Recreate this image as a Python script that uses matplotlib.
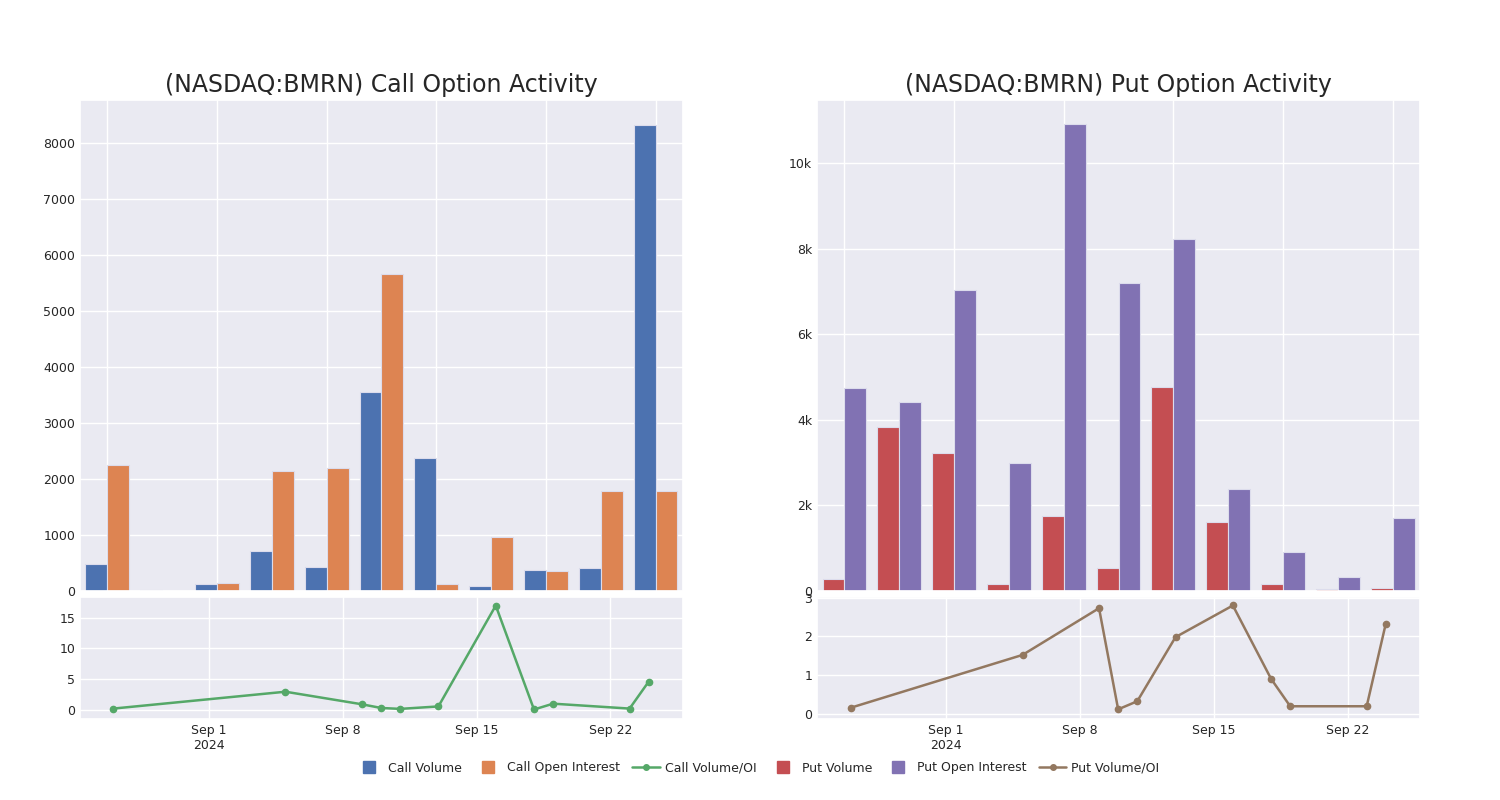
import datetime as dt
import numpy as np
import matplotlib
matplotlib.use("Agg")
import matplotlib.pyplot as plt
import matplotlib.dates as mdates
from matplotlib.ticker import FuncFormatter, MultipleLocator
from matplotlib.lines import Line2D
import seaborn as sns

# --- data ---
dates = ["2024-08-27", "2024-09-05", "2024-09-09", "2024-09-10", "2024-09-11", "2024-09-13",
         "2024-09-16", "2024-09-18", "2024-09-19", "2024-09-23", "2024-09-24"]

call_volume = [490, 24, 132, 719, 431, 3563, 2377, 96, 371, 419, 8330]
call_oi = [2257, 6, 144, 2144, 2204, 5660, 132, 970, 365, 1784, 1790]
call_ratio = [0.2, 2.95, 0.9, 0.3, 0.15, 0.55, 17.0, 0.05, 1.0, 0.2, 4.6]

put_volume = [289, 3836, 3227, 172, 1758, 547, 4766, 1602, 172, 55, 78]
put_oi = [4742, 4422, 7030, 2984, 10900, 7200, 8220, 2375, 922, 328, 1695]
put_ratio = [0.15, 1.52, 2.73, 0.11, 0.32, 1.98, 2.80, 0.90, 0.19, 0.19, 2.33]

sns.set_theme(style="darkgrid", palette="deep")
plt.rcParams['font.family'] = ['DejaVu Sans']
pal = sns.color_palette("deep")
c_cv, c_coi, c_cr, c_pv, c_poi, c_pr = pal[0], pal[1], pal[2], pal[3], pal[4], pal[5]

day = [dt.datetime.strptime(d, "%Y-%m-%d") for d in dates]
x = np.arange(len(dates))
w = 0.4

fig = plt.figure(figsize=(15, 8), dpi=100)


def kfmt(v, pos):
    if v == 0:
        return "0"
    return f"{v/1000:g}k"


def date_fmt(v, pos):
    d = mdates.num2date(v)
    s = f"{d:%b} {d.day}"
    if d.month == 9 and d.day == 1:
        s += "\n2024"
    return s


def panel(left, title, vol, oi, ratio, cv, coi, cr, ylim_bar, ylim_line, yfmt=None, ystep=None):
    ax = fig.add_axes([left, 0.26125, 0.402, 0.61375])
    ax.bar(x - w / 2, vol, w, color=cv, edgecolor="#dcdcec", linewidth=0.8)
    ax.bar(x + w / 2, oi, w, color=coi, edgecolor="#dcdcec", linewidth=0.8)
    ax.set_xlim(-0.5, 10.5)
    ax.set_ylim(*ylim_bar)
    ax.set_xticks(range(0, 11, 2))
    ax.set_xticklabels([])
    ax.tick_params(length=0, labelsize=9)
    if yfmt:
        ax.yaxis.set_major_formatter(FuncFormatter(yfmt))
    if ystep:
        ax.yaxis.set_major_locator(MultipleLocator(ystep))
    ax.set_title(title, fontsize=17, pad=6)

    bx = fig.add_axes([left, 0.10125, 0.402, 0.1525])
    bx.plot(day, ratio, color=cr, marker="o", markersize=4.5, linewidth=1.8)
    bx.set_xlim(dt.datetime(2024, 8, 25, 6), dt.datetime(2024, 9, 25, 19))
    bx.set_ylim(*ylim_line)
    bx.xaxis.set_major_locator(mdates.WeekdayLocator(byweekday=mdates.SU))
    bx.xaxis.set_major_formatter(FuncFormatter(date_fmt))
    bx.tick_params(length=0, labelsize=9)
    return ax, bx


panel(0.0533, "(NASDAQ:BMRN) Call Option Activity", call_volume, call_oi, call_ratio,
      c_cv, c_coi, c_cr, (0, 8770), (-1.5, 18.4), ystep=1000)
ax2, bx2 = panel(0.5447, "(NASDAQ:BMRN) Put Option Activity", put_volume, put_oi, put_ratio,
                 c_pv, c_poi, c_pr, (0, 11470), (-0.14, 3.02), yfmt=kfmt, ystep=2000)
bx2.yaxis.set_major_locator(MultipleLocator(1))


def sq(c):
    return Line2D([], [], color=c, marker="s", markersize=9, linestyle="none")


def ln(c):
    return Line2D([], [], color=c, marker="o", markersize=4, linewidth=1.8)


handles = [sq(c_cv), sq(c_coi), ln(c_cr), sq(c_pv), sq(c_poi), ln(c_pr)]
labels = ["Call Volume", "Call Open Interest", "Call Volume/OI",
          "Put Volume", "Put Open Interest", "Put Volume/OI"]
fig.legend(handles, labels, loc="center", bbox_to_anchor=(0.505, 0.04), ncol=6,
           frameon=False, fontsize=9, handlelength=2.2, handletextpad=0.4, columnspacing=1.0)

fig.savefig("out.png", dpi=100)
